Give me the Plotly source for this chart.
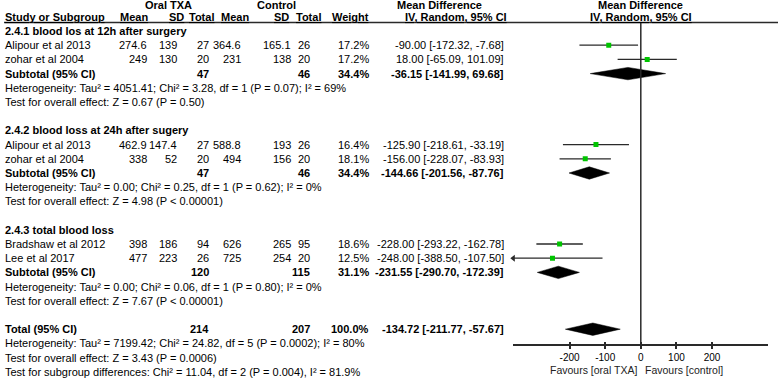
import plotly.graph_objects as go

W, H = 778, 383
FONT = "Liberation Sans, Arial, sans-serif"

# ---------------- data ----------------
studies = ["Alipour et al 2013", "zohar et al 2004", "Alipour et al 2013",
           "zohar et al 2004", "Bradshaw et al 2012", "Lee et al 2017"]
study_group = [0, 0, 1, 1, 2, 2]
exp_mean = [274.6, 249, 462.9, 338, 398, 477]
exp_sd = [139, 130, 147.4, 52, 186, 223]
exp_n = [27, 20, 27, 20, 94, 26]
ctl_mean = [364.6, 231, 588.8, 494, 626, 725]
ctl_sd = [165.1, 138, 193, 156, 265, 254]
ctl_n = [26, 20, 26, 20, 95, 20]
weight = [17.2, 17.2, 16.4, 18.1, 18.6, 12.5]
md = [-90.00, 18.00, -125.90, -156.00, -228.00, -248.00]
md_lo = [-172.32, -65.09, -218.61, -228.07, -293.22, -388.50]
md_hi = [-7.68, 101.09, -33.19, -83.93, -162.78, -107.50]

sub_titles = ["2.4.1 blood los at 12h after surgery",
              "2.4.2 blood loss at 24h after sugery",
              "2.4.3 total blood loss"]
sub_exp_n = [47, 47, 120]
sub_ctl_n = [46, 46, 115]
sub_weight = [34.4, 34.4, 31.1]
sub_md = [-36.15, -144.66, -231.55]
sub_lo = [-141.99, -201.56, -290.70]
sub_hi = [69.68, -87.76, -172.39]
sub_het = ["Heterogeneity: Tau² = 4051.41; Chi² = 3.28, df = 1 (P = 0.07); I² = 69%",
           "Heterogeneity: Tau² = 0.00; Chi² = 0.25, df = 1 (P = 0.62); I² = 0%",
           "Heterogeneity: Tau² = 0.00; Chi² = 0.06, df = 1 (P = 0.80); I² = 0%"]
sub_test = ["Test for overall effect: Z = 0.67 (P = 0.50)",
            "Test for overall effect: Z = 4.98 (P < 0.00001)",
            "Test for overall effect: Z = 7.67 (P < 0.00001)"]

total_exp_n = 214
total_ctl_n = 207
total_weight = 100.0
total_md = -134.72
total_lo = -211.77
total_hi = -57.67
total_het = "Heterogeneity: Tau² = 7199.42; Chi² = 24.82, df = 5 (P = 0.0002); I² = 80%"
total_test = "Test for overall effect: Z = 3.43 (P = 0.0006)"
subgroup_test = "Test for subgroup differences: Chi² = 11.04, df = 2 (P = 0.004), I² = 81.9%"

tick_vals = [-200, -100, 0, 100, 200]
tick_text = ["-200", "-100", "0", "100", "200"]
favours_left = "Favours [oral TXA]"
favours_right = "Favours [control]"

# ---------------- layout geometry ----------------
XMIN, XMAX = -358, 358
PLOT_L, PLOT_R = 513.3, 768.3
Y_FIRST, PITCH = 31.0, 14.2
H1, H2, HLINE = 5.0, 16.5, 22.5
AXIS_Y = 345.0
FAV_Y = 369.5
LEFT = 4
COLS = [148, 178, 210, 242, 292, 311, 370, 505]
GREEN = "#00c400"
INK = "#000000"
LINE = "#2a2a2a"


def row_y(r):
    return Y_FIRST + PITCH * r


fig = go.Figure()


def ann(x, y, text, anchor="left", bold=False, size=11, color=INK, xref="x", xshift=0):
    if bold:
        text = f"<b>{text}</b>"
    fig.add_annotation(x=x, y=y, xref=xref, yref="y", text=text, showarrow=False,
                       xanchor=anchor, yanchor="middle", xshift=xshift, borderpad=0,
                       font=dict(family=FONT, size=size, color=color))


def num(v):
    return f"{v:g}"


def ci(m, l, h):
    return f"{m:.2f} [{l:.2f}, {h:.2f}]"


# headers
ann(168, H1, "Oral TXA", "center", True)
ann(276, H1, "Control", "center", True)
ann(439, H1, "Mean Difference", "center", True)
ann(0, H1, "Mean Difference", "center", True, xref="x2")
ann(LEFT, H2, "<u>Study or Subgroup</u>", "left", True)
for x, t in zip([149, 185, 215, 250, 290, 322, 370, 508],
                ["Mean", "SD", "Total", "Mean", "SD", "Total", "Weight", "IV, Random, 95% CI"]):
    ann(x, H2, f"<u>{t}</u>", "right", True)
ann(0, H2, "<u>IV, Random, 95% CI</u>", "center", True, xref="x2")

# study rows
study_rows = []
count = [0, 0, 0]
for i, g in enumerate(study_group):
    count[g] += 1
    study_rows.append(row_y(7 * g + count[g]))

for i, y in enumerate(study_rows):
    ann(LEFT, y, studies[i])
    vals = [num(exp_mean[i]), num(exp_sd[i]), str(exp_n[i]), num(ctl_mean[i]),
            num(ctl_sd[i]), str(ctl_n[i]), f"{weight[i]:.1f}%", ci(md[i], md_lo[i], md_hi[i])]
    for x, t in zip(COLS, vals):
        ann(x, y, t, "right")

sub_rows = []
for g in range(3):
    ann(LEFT, row_y(7 * g), sub_titles[g], bold=True)
    ys = row_y(7 * g + 3)
    sub_rows.append(ys)
    ann(LEFT, ys, "Subtotal (95% CI)", bold=True)
    ann(COLS[2], ys, str(sub_exp_n[g]), "right", True)
    ann(COLS[5], ys, str(sub_ctl_n[g]), "right", True)
    ann(COLS[6], ys, f"{sub_weight[g]:.1f}%", "right", True)
    ann(COLS[7], ys, ci(sub_md[g], sub_lo[g], sub_hi[g]), "right", True)
    ann(LEFT, row_y(7 * g + 4), sub_het[g])
    ann(LEFT, row_y(7 * g + 5), sub_test[g])

ty = row_y(21)
ann(LEFT, ty, "Total (95% CI)", bold=True)
ann(COLS[2], ty, str(total_exp_n), "right", True)
ann(COLS[5], ty, str(total_ctl_n), "right", True)
ann(COLS[6], ty, f"{total_weight:.1f}%", "right", True)
ann(COLS[7], ty, ci(total_md, total_lo, total_hi), "right", True)
ann(LEFT, row_y(22), total_het)
ann(LEFT, row_y(23), total_test)
ann(LEFT, row_y(24), subgroup_test)

ann(0, FAV_Y, favours_left, "right", size=10.5, xref="x2", xshift=-3, color="#222")
ann(0, FAV_Y, favours_right, "left", size=10.5, xref="x2", xshift=3, color="#222")

# ---------------- forest marks ----------------
lx, ly, arrows_x, arrows_y = [], [], [], []
for i, y in enumerate(study_rows):
    lo = max(md_lo[i], XMIN)
    hi = min(md_hi[i], XMAX)
    lx += [lo, hi, None]
    ly += [y, y, None]
    if md_lo[i] < XMIN:
        arrows_x.append(XMIN)
        arrows_y.append(y)

fig.add_trace(go.Scatter(x=lx, y=ly, mode="lines", xaxis="x2", yaxis="y",
                         line=dict(color=LINE, width=1.3), hoverinfo="skip", showlegend=False))
fig.add_trace(go.Scatter(x=arrows_x, y=arrows_y, mode="markers", xaxis="x2", yaxis="y",
                         marker=dict(symbol="triangle-left", size=6, color=LINE),
                         cliponaxis=False, hoverinfo="skip", showlegend=False))
fig.add_trace(go.Scatter(x=md, y=study_rows, mode="markers", xaxis="x2", yaxis="y",
                         marker=dict(symbol="square", size=5, color=GREEN, line=dict(width=0)),
                         showlegend=False))

DH = 6.2
dx, dy = [], []
for m, l, h, y in zip(sub_md + [total_md], sub_lo + [total_lo], sub_hi + [total_hi], sub_rows + [ty]):
    dx += [l, m, h, m, l, None]
    dy += [y, y - DH, y, y + DH, y, None]
fig.add_trace(go.Scatter(x=dx, y=dy, mode="lines", fill="toself", fillcolor="#000",
                         xaxis="x2", yaxis="y", line=dict(color="#000", width=0.5),
                         hoverinfo="skip", showlegend=False))
fig.add_trace(go.Scatter(x=[0], y=[AXIS_Y], mode="markers", xaxis="x3", yaxis="y",
                         marker=dict(size=0.1, opacity=0), hoverinfo="skip", showlegend=False))

# lines
fig.add_shape(type="line", xref="x", yref="y", x0=LEFT, x1=W, y0=HLINE, y1=HLINE,
              line=dict(color=LINE, width=1.5))
fig.add_shape(type="line", xref="x2", yref="y", x0=0, x1=0, y0=HLINE, y1=AXIS_Y,
              line=dict(color=LINE, width=1.5))

axis_pos = 1 - AXIS_Y / H
dom = [PLOT_L / W, PLOT_R / W]
fig.update_layout(
    width=W, height=H, autosize=False,
    margin=dict(l=0, r=0, t=0, b=0, pad=0, autoexpand=False),
    paper_bgcolor="white", plot_bgcolor="white",
    showlegend=False,
    xaxis=dict(range=[0, W], domain=[0, 1], visible=False, fixedrange=True),
    yaxis=dict(range=[H, 0], domain=[0, 1], visible=False, fixedrange=True),
    xaxis2=dict(range=[XMIN, XMAX], domain=dom, anchor="free", position=axis_pos,
                showline=True, linecolor=LINE, linewidth=1.5, showgrid=False, zeroline=False,
                ticks="outside", ticklen=3, tickwidth=1.5, tickcolor=LINE,
                tickvals=tick_vals, ticktext=tick_text,
                tickfont=dict(family=FONT, size=10, color=INK), fixedrange=True),
    xaxis3=dict(range=[XMIN, XMAX], domain=dom, anchor="free", position=axis_pos,
                overlaying="x2", showline=False, showgrid=False, zeroline=False,
                ticks="inside", ticklen=3, tickwidth=1.5, tickcolor=LINE,
                tickvals=tick_vals, showticklabels=False, fixedrange=True),
)

fig.write_html("out.html", config={"displayModeBar": False},
               post_script="document.body.style.margin='0';document.body.style.overflow='hidden';")
